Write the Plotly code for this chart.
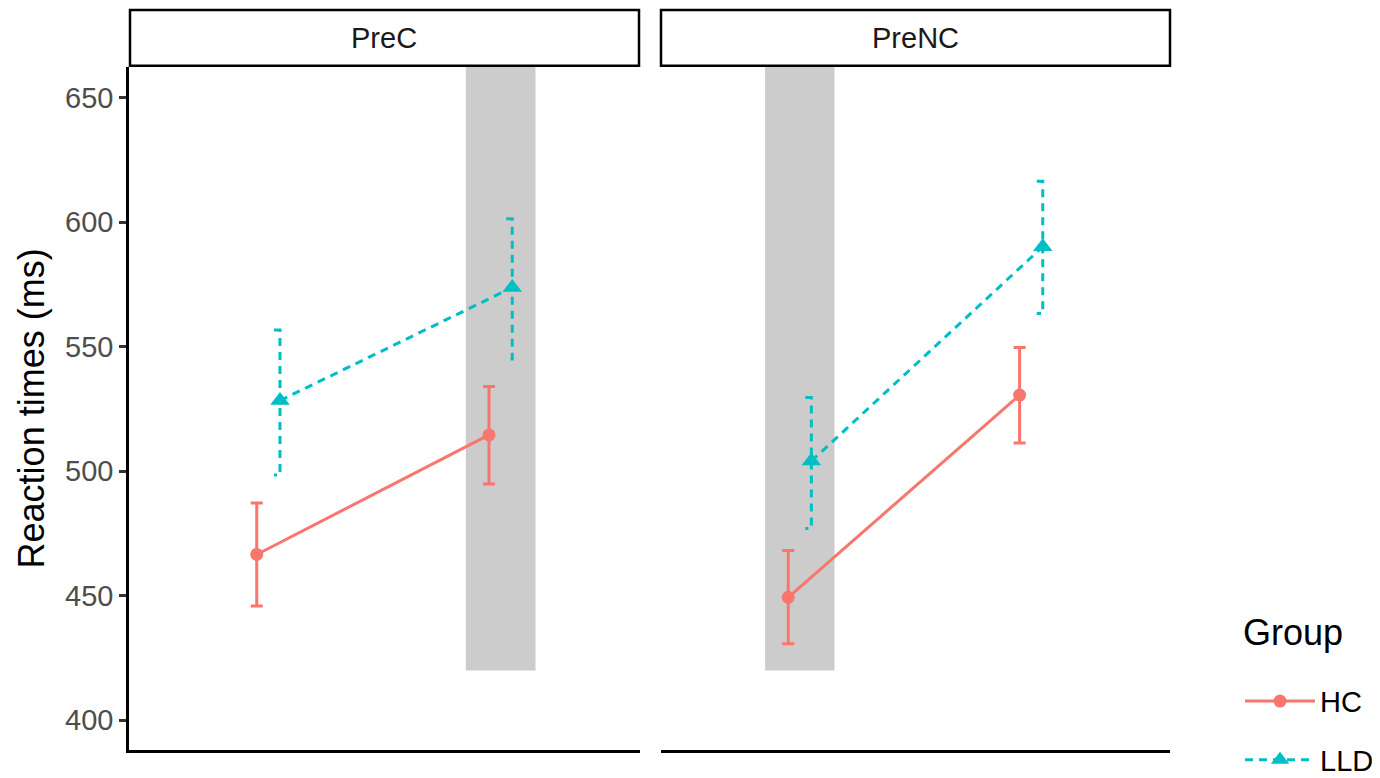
import plotly.graph_objects as go

# ---- data ----
panels = ["PreC", "PreNC"]
levels = [1, 2]
groups = ["HC", "LLD"]

hc_mean = {"PreC": [466.6, 514.6], "PreNC": [449.4, 530.6]}
hc_low = {"PreC": [445.9, 494.9], "PreNC": [430.7, 511.4]}
hc_high = {"PreC": [487.3, 534.0], "PreNC": [468.2, 549.7]}

lld_mean = {"PreC": [528.4, 573.8], "PreNC": [504.1, 590.2]}
lld_low = {"PreC": [498.5, 545.1], "PreNC": [477.0, 563.4]}
lld_high = {"PreC": [556.7, 601.4], "PreNC": [529.6, 616.5]}

highlight_x = {"PreC": [1.85, 2.15], "PreNC": [0.85, 1.15]}
highlight_ymin = 420

y_ticks = [400, 450, 500, 550, 600, 650]

# ---- style ----
HC_COL = "#F8766D"
LLD_COL = "#00BFC4"
FONT = "Liberation Sans, Arial, sans-serif"
DODGE = 0.05
CAP = 0.026
Y_RANGE = [388, 662.5]
LW = 3
DASH = "8px,6px"

W, H = 1380, 778
OFF = 8  # page body margin


def px(x):
    return (x - OFF) / W


def py(y):
    return (H - (y - OFF)) / H


fig = go.Figure()

for i, p in enumerate(panels):
    xa = "x" if i == 0 else "x2"
    ya = "y" if i == 0 else "y2"
    fig.add_shape(type="rect", xref=xa, yref=ya, x0=highlight_x[p][0], x1=highlight_x[p][1],
                  y0=highlight_ymin, y1=Y_RANGE[1], fillcolor="#CCCCCC", line_width=0, layer="below")

    hx = [l - DODGE for l in levels]
    lx = [l + DODGE for l in levels]

    fig.add_trace(go.Scatter(
        x=hx, y=hc_mean[p], mode="markers", marker=dict(size=0.1, color=HC_COL),
        error_y=dict(type="data", symmetric=False,
                     array=[h - m for h, m in zip(hc_high[p], hc_mean[p])],
                     arrayminus=[m - l for l, m in zip(hc_low[p], hc_mean[p])],
                     color=HC_COL, thickness=LW, width=6),
        showlegend=False, hoverinfo="skip", xaxis=xa, yaxis=ya))

    ex, ey = [], []
    for x, lo, hi in zip(lx, lld_low[p], lld_high[p]):
        ex += [x - CAP, x, x, x - CAP, None]
        ey += [hi, hi, lo, lo, None]
    fig.add_trace(go.Scatter(
        x=ex, y=ey, mode="lines", line=dict(color=LLD_COL, width=LW, dash=DASH),
        showlegend=False, hoverinfo="skip", xaxis=xa, yaxis=ya))

    fig.add_trace(go.Scatter(
        x=hx, y=hc_mean[p], mode="lines+markers", name="HC", legendgroup="HC",
        line=dict(color=HC_COL, width=LW),
        marker=dict(symbol="circle", size=13, color=HC_COL),
        showlegend=(i == 0), xaxis=xa, yaxis=ya))
    fig.add_trace(go.Scatter(
        x=lx, y=lld_mean[p], mode="lines+markers", name="LLD", legendgroup="LLD",
        line=dict(color=LLD_COL, width=LW, dash=DASH),
        marker=dict(symbol="triangle-up", size=17, color=LLD_COL),
        showlegend=(i == 0), xaxis=xa, yaxis=ya))

# strip boxes
strip_x = [(130, 639), (661, 1170)]
for (x0, x1), p in zip(strip_x, panels):
    fig.add_shape(type="rect", xref="paper", yref="paper",
                  x0=px(x0), x1=px(x1), y0=py(66), y1=py(10),
                  fillcolor="white", line=dict(color="black", width=2.5))
    fig.add_annotation(xref="paper", yref="paper", x=px((x0 + x1) / 2), y=py(38),
                       text=p, showarrow=False, font=dict(size=29, color="#1A1A1A", family=FONT),
                       xanchor="center", yanchor="middle")

# legend title
fig.add_annotation(xref="paper", yref="paper", x=px(1241), y=py(637), text="Group",
                   showarrow=False, xanchor="left", yanchor="middle",
                   font=dict(size=36, color="black", family=FONT))

xcommon = dict(range=[0.4, 2.6], showline=True, linecolor="black", linewidth=2.5,
               showticklabels=False, ticks="", showgrid=False, zeroline=False, fixedrange=True)
fig.update_layout(
    width=W, height=H,
    margin=dict(l=0, r=0, t=0, b=0),
    paper_bgcolor="white", plot_bgcolor="white",
    font=dict(family=FONT, color="black"),
    xaxis=dict(domain=[px(129), px(640)], anchor="y", **xcommon),
    xaxis2=dict(domain=[px(661), px(1170)], anchor="y2", **xcommon),
    yaxis=dict(domain=[py(755), py(67)], range=Y_RANGE, anchor="x",
               tickvals=y_ticks, ticks="outside", ticklen=7, tickwidth=2.5, tickcolor="#333333",
               tickfont=dict(size=29, color="#4D4D4D", family=FONT),
               showline=True, linecolor="black", linewidth=2.5, showgrid=False, zeroline=False,
               title=dict(text="Reaction times (ms)", font=dict(size=36, color="black", family=FONT),
                          standoff=10)),
    yaxis2=dict(domain=[py(755), py(67)], range=Y_RANGE, anchor="x2", matches="y",
                showticklabels=False, ticks="", showline=False, showgrid=False, zeroline=False),
    legend=dict(x=px(1240), y=py(680), xanchor="left", yanchor="top",
                font=dict(size=29, color="black", family=FONT),
                tracegroupgap=18, itemwidth=70, bgcolor="rgba(0,0,0,0)"),
)

fig.write_html("out.html")
